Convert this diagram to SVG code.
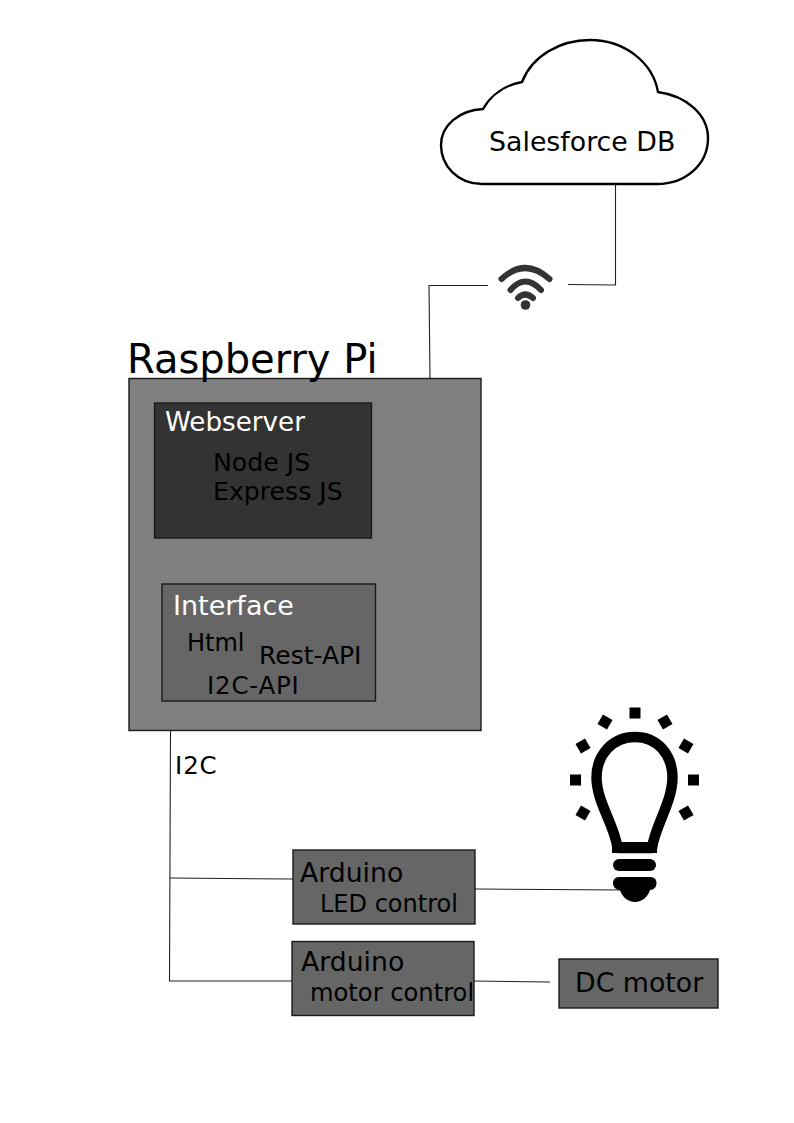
<svg xmlns="http://www.w3.org/2000/svg" width="794" height="1123" viewBox="0 0 794 1123">
<style>
text{font-family:"DejaVu Sans",sans-serif;fill:#000}
.w{fill:#fff}
.d{fill:#000}
.b{stroke:#1a1a1a;stroke-width:1.400}
.c{fill:none;stroke:#222;stroke-width:1.100}
.wifi{fill:none;stroke:#333;stroke-width:6;stroke-linecap:round}
.ray{fill:#000}
</style>
<rect width="794" height="1123" fill="#fff"/>
<g id="connectors">
<path class="c" d="M430 378L429 285.500H488"/>
<path class="c" d="M568 284.500L615.500 285V184"/>
<path class="c" d="M170.500 731L169.500 981H292"/>
<path class="c" d="M170 878L293 879"/>
<path class="c" d="M475 889L622 890"/>
<path class="c" d="M474 981L550 982"/>
</g>
<g id="cloud">
<path d="M482 184C458 184 441 166 441 145C441 125 460 110 483 109C491 95 505 85 522 82C532 56 560 40 590 40C625 40 653 63 658 92C687 96 708 115 708 138C708 165 685 184 657 184Z" fill="#fff" stroke="#000" stroke-width="2.400"/>
<text x="489" y="151" font-size="26.800">Salesforce DB</text>
</g>
<g id="wifi">
<path class="wifi" d="M501.500 279Q525 257 549.500 279"/>
<path class="wifi" d="M510.500 290Q525 273 541 290"/>
<path class="wifi" d="M518 298Q525 291 533 298"/>
<circle cx="525.500" cy="305" r="4.800" fill="#333"/>
</g>
<g id="raspberry-pi">
<rect class="b" x="129" y="378.500" width="352" height="352" fill="#808080"/>
<text x="127" y="373" font-size="40">Raspberry Pi</text>
</g>
<g id="webserver">
<rect class="b" x="154.500" y="403" width="217" height="135" fill="#333"/>
<text class="w" x="165" y="431" font-size="26.200">Webserver</text>
<text class="d" x="213" y="471" font-size="25.200">Node JS</text>
<text class="d" x="213" y="500" font-size="25.200">Express JS</text>
</g>
<g id="interface">
<rect class="b" x="162" y="584" width="213.500" height="117" fill="#666"/>
<text class="w" x="173" y="615" font-size="27">Interface</text>
<text class="d" x="187" y="651" font-size="24">Html</text>
<text class="d" x="259" y="664" font-size="25">Rest-API</text>
<text class="d" x="207" y="694" font-size="24.500" letter-spacing="0.800">I2C-API</text>
</g>
<text id="i2c" x="175" y="774" font-size="24.500" letter-spacing="0.900">I2C</text>
<g id="arduino-led">
<rect class="b" x="293" y="850" width="182" height="74" fill="#666"/>
<text class="d" x="300" y="882" font-size="26.700">Arduino</text>
<text class="d" x="320" y="912" font-size="24">LED control</text>
</g>
<g id="arduino-motor">
<rect class="b" x="292" y="941.500" width="182" height="74" fill="#666"/>
<text class="d" x="301" y="971" font-size="26.700">Arduino</text>
<text class="d" x="310" y="1001" font-size="24.200">motor control</text>
</g>
<g id="dc-motor">
<rect class="b" x="559" y="959" width="159" height="49" fill="#666"/>
<text class="d" x="575" y="992" font-size="26.800">DC motor</text>
</g>
<g id="bulb">
<path d="M617.500 848C615 826 597 803 596.500 778C596.500 754 613 737 635 737C657 737 672.500 754 672.500 778C672 803 655 826 652 848Z" fill="#fff" stroke="#000" stroke-width="10.500" stroke-linejoin="round"/>
<rect x="612" y="842" width="45" height="11" fill="#000"/>
<rect x="613" y="859" width="43" height="12" rx="6" fill="#000"/>
<path d="M619 877H650C655 877 656.500 880 656.500 883C656.500 887 654 890 650 890C648 897 642 902 635 902C628 902 622 897 620 890C616 890 613 887 613 883C613 880 615 877 619 877Z" fill="#000"/>
<rect class="ray" x="629.500" y="707.500" width="11" height="11"/>
<rect class="ray" x="570" y="774.500" width="11" height="11"/>
<rect class="ray" x="688" y="774.500" width="11" height="11"/>
<rect class="ray" x="-5.500" y="-5.500" width="11" height="11" transform="translate(605 722) rotate(30)"/>
<rect class="ray" x="-5.500" y="-5.500" width="11" height="11" transform="translate(665 722) rotate(-30)"/>
<rect class="ray" x="-5.500" y="-5.500" width="11" height="11" transform="translate(583 746) rotate(60)"/>
<rect class="ray" x="-5.500" y="-5.500" width="11" height="11" transform="translate(686 746) rotate(-60)"/>
<rect class="ray" x="-5.500" y="-5.500" width="11" height="11" transform="translate(583 813) rotate(-60)"/>
<rect class="ray" x="-5.500" y="-5.500" width="11" height="11" transform="translate(686 813) rotate(60)"/>
</g>
</svg>
